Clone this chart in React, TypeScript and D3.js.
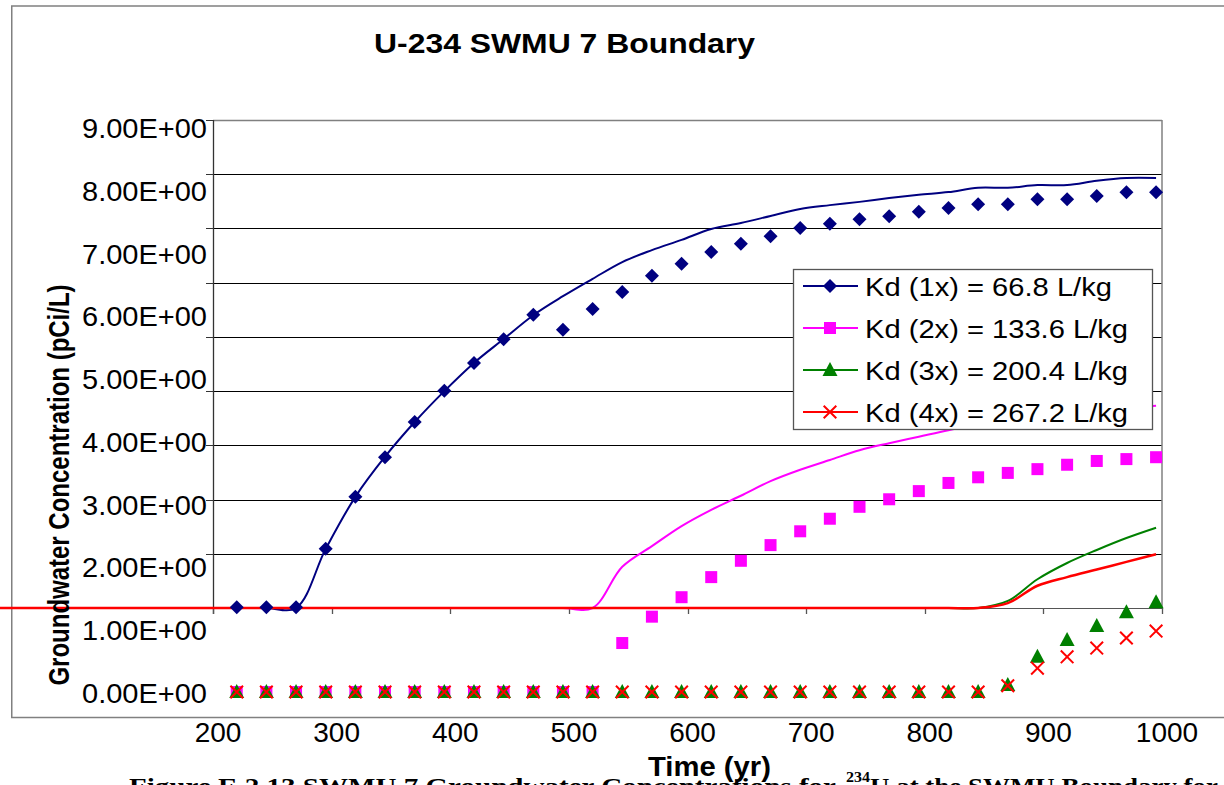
import React from "react";
import * as d3 from "d3";

const X_TICKS = [200, 300, 400, 500, 600, 700, 800, 900, 1000];
const Y_TICKS = [0, 1, 2, 3, 4, 5, 6, 7, 8, 9];
const Y_TICK_LABELS = ["0.00E+00", "1.00E+00", "2.00E+00", "3.00E+00", "4.00E+00", "5.00E+00", "6.00E+00", "7.00E+00", "8.00E+00", "9.00E+00"];

const LINE_YEARS = [20, 45, 70, 95, 120, 145, 170, 195, 220, 245, 270, 295, 320, 345, 370, 395, 420, 445, 470, 495, 520, 545, 570, 595, 620, 645, 670, 695, 720, 745, 770, 795, 820, 845, 870, 895, 920, 945, 970, 995];
const MARKER_YEARS = [220, 245, 270, 295, 320, 345, 370, 395, 420, 445, 470, 495, 520, 545, 570, 595, 620, 645, 670, 695, 720, 745, 770, 795, 820, 845, 870, 895, 920, 945, 970, 995];

// Line traces (drawn against the gridline frame)
const LINE_1X = [0, 0, 0, 0, 0, 0, 0, 0, 0, 0, 0, 1.09, 2.05, 2.79, 3.43, 4.0, 4.52, 4.96, 5.4, 5.75, 6.07, 6.38, 6.6, 6.79, 6.99, 7.1, 7.23, 7.36, 7.43, 7.49, 7.56, 7.62, 7.67, 7.75, 7.75, 7.8, 7.8, 7.88, 7.93, 7.93];
const LINE_2X = [0, 0, 0, 0, 0, 0, 0, 0, 0, 0, 0, 0, 0, 0, 0, 0, 0, 0, 0, 0, 0, 0.76, 1.14, 1.51, 1.81, 2.07, 2.34, 2.55, 2.73, 2.91, 3.04, 3.16, 3.28, 3.38, 3.47, 3.54, 3.6, 3.65, 3.69, 3.73];
const LINE_3X = [0, 0, 0, 0, 0, 0, 0, 0, 0, 0, 0, 0, 0, 0, 0, 0, 0, 0, 0, 0, 0, 0, 0, 0, 0, 0, 0, 0, 0, 0, 0, 0, 0, 0, 0.13, 0.53, 0.83, 1.07, 1.29, 1.48];
const LINE_4X = [0, 0, 0, 0, 0, 0, 0, 0, 0, 0, 0, 0, 0, 0, 0, 0, 0, 0, 0, 0, 0, 0, 0, 0, 0, 0, 0, 0, 0, 0, 0, 0, 0, 0, 0.09, 0.41, 0.57, 0.71, 0.85, 0.99];

// Marker values (read against the tick-label frame)
const MARK_1X = [1.35, 1.35, 1.35, 2.28, 3.11, 3.74, 4.3, 4.8, 5.24, 5.62, 6.01, 5.77, 6.1, 6.37, 6.63, 6.82, 7.01, 7.14, 7.26, 7.39, 7.46, 7.53, 7.58, 7.65, 7.71, 7.77, 7.77, 7.85, 7.85, 7.9, 7.96, 7.96];
const MARK_2X = [0, 0, 0, 0, 0, 0, 0, 0, 0, 0, 0, 0, 0, 0.78, 1.2, 1.51, 1.83, 2.09, 2.34, 2.56, 2.76, 2.95, 3.07, 3.2, 3.33, 3.42, 3.49, 3.55, 3.62, 3.68, 3.71, 3.74];
const MARK_3X = [0, 0, 0, 0, 0, 0, 0, 0, 0, 0, 0, 0, 0, 0, 0, 0, 0, 0, 0, 0, 0, 0, 0, 0, 0, 0, 0.11, 0.56, 0.83, 1.05, 1.27, 1.43];
const MARK_4X = [0, 0, 0, 0, 0, 0, 0, 0, 0, 0, 0, 0, 0, 0, 0, 0, 0, 0, 0, 0, 0, 0, 0, 0, 0, 0, 0.1, 0.38, 0.56, 0.7, 0.86, 0.97];

const SERIES_NAMES = ["Kd (1x) = 66.8 L/kg", "Kd (2x) = 133.6 L/kg", "Kd (3x) = 200.4 L/kg", "Kd (4x) = 267.2 L/kg"];
const SERIES_COLORS = ["#000080", "#FF00FF", "#008000", "#FF0000"];
const SERIES_SHAPES = ["diamond", "square", "triangle", "x"];

const SANS = "'Liberation Sans', Arial, Helvetica, sans-serif";
const SERIF = "'Liberation Serif', 'Times New Roman', serif";

function Marker({ shape, x, y, color }: { shape: string; x: number; y: number; color: string }) {
  if (shape === "diamond") {
    const r = 7;
    return <path d={`M${x},${y - r}L${x + r},${y}L${x},${y + r}L${x - r},${y}Z`} fill={color} />;
  }
  if (shape === "square") {
    const s = 12;
    return <rect x={x - s / 2} y={y - s / 2} width={s} height={s} fill={color} />;
  }
  if (shape === "triangle") {
    return <path d={`M${x},${y - 8}L${x + 7.5},${y + 6}L${x - 7.5},${y + 6}Z`} fill={color} />;
  }
  const h = 6.3;
  return (
    <path d={`M${x - h},${y - h}L${x + h},${y + h}M${x + h},${y - h}L${x - h},${y + h}`} stroke={color} strokeWidth={2} fill="none" />
  );
}

export default function App() {
  const x = d3.scaleLinear().domain([200, 1000]).range([213, 1162]);
  const yGrid = d3.scaleLinear().domain([0, 9]).range([608, 120]);
  const yLabel = d3.scaleLinear().domain([0, 9]).range([692, 127]);

  const lines = [LINE_1X, LINE_2X, LINE_3X, LINE_4X];
  const marks = [MARK_1X, MARK_2X, MARK_3X, MARK_4X];

  const lineGen = d3
    .line<number>()
    .x((_, i) => x(LINE_YEARS[i]))
    .y((d) => yGrid(d))
    .curve(d3.curveCatmullRom);

  const legendX = 793;
  const legendY = 269;
  const legendW = 359;
  const legendH = 160;
  const legendRows = [286, 328, 370, 412];
  const legendLens = [247, 263, 263, 263];

  return (
    <svg
      width={1224}
      height={785}
      style={{ position: "absolute", left: 0, top: 0, background: "#fff" }}
      xmlns="http://www.w3.org/2000/svg"
    >
      <rect x={0} y={0} width={1224} height={785} fill="#fff" />
      {/* outer chart frame */}
      <rect x={11.75} y={6} width={1300} height={711.5} fill="none" stroke="#808080" strokeWidth={1.5} />

      {/* title */}
      <text x={374} y={52.5} fontFamily={SANS} fontWeight="bold" fontSize={28} textLength={381} lengthAdjust="spacingAndGlyphs">
        U-234 SWMU 7 Boundary
      </text>

      {/* gridlines */}
      {Y_TICKS.filter((v) => v > 0 && v < 9).map((v) => (
        <line key={"g" + v} x1={213} x2={1162} y1={Math.round(yGrid(v)) + 0.5} y2={Math.round(yGrid(v)) + 0.5} stroke="#000" strokeWidth={1} />
      ))}
      {/* plot border top/right */}
      <line x1={213} x2={1162} y1={120.5} y2={120.5} stroke="#808080" strokeWidth={1.5} />
      <line x1={1162} x2={1162} y1={120} y2={608} stroke="#808080" strokeWidth={1.5} />
      {/* y axis */}
      <line x1={213.5} x2={213.5} y1={120} y2={614} stroke="#333" strokeWidth={1.3} />
      {Y_TICKS.map((v) => (
        <line key={"yt" + v} x1={206} x2={213} y1={Math.round(yGrid(v)) + 0.5} y2={Math.round(yGrid(v)) + 0.5} stroke="#333" strokeWidth={1} />
      ))}
      {/* x axis ticks */}
      <line x1={213} x2={1162} y1={608.5} y2={608.5} stroke="#555" strokeWidth={1} />
      {X_TICKS.map((t) => (
        <line key={"xt" + t} x1={Math.round(x(t)) + 0.5} x2={Math.round(x(t)) + 0.5} y1={608} y2={614} stroke="#555" strokeWidth={1.3} />
      ))}

      {/* y tick labels */}
      {Y_TICKS.map((v, i) => (
        <text key={"yl" + v} x={82} y={yLabel(v) + 11} fontFamily={SANS} fontSize={28} textLength={125} lengthAdjust="spacingAndGlyphs" fill="#000">
          {Y_TICK_LABELS[i]}
        </text>
      ))}
      {/* x tick labels */}
      {X_TICKS.map((t) => (
        <text key={"xl" + t} x={x(t) + 5} y={742} fontFamily={SANS} fontSize={28} textAnchor="middle" fill="#000">
          {t}
        </text>
      ))}

      {/* series lines */}
      {lines.map((vals, si) => (
        <path key={"ln" + si} d={lineGen(vals) || ""} fill="none" stroke={SERIES_COLORS[si]} strokeWidth={si === 3 ? 2.5 : 2} strokeLinejoin="round" />
      ))}

      {/* markers */}
      {marks.map((vals, si) => (
        <g key={"mk" + si}>
          {vals.map((v, i) => (
            <Marker key={i} shape={SERIES_SHAPES[si]} x={x(MARKER_YEARS[i])} y={yLabel(v)} color={SERIES_COLORS[si]} />
          ))}
        </g>
      ))}

      {/* legend */}
      <rect x={legendX + 0.5} y={legendY + 0.5} width={legendW} height={legendH} fill="#fff" stroke="#555" strokeWidth={1.3} />
      {SERIES_NAMES.map((name, i) => (
        <g key={"lg" + i}>
          <line x1={803} x2={858} y1={legendRows[i]} y2={legendRows[i]} stroke={SERIES_COLORS[i]} strokeWidth={2} />
          <Marker shape={SERIES_SHAPES[i]} x={830} y={legendRows[i]} color={SERIES_COLORS[i]} />
          <text x={865} y={legendRows[i] + 9.5} fontFamily={SANS} fontSize={26.5} textLength={legendLens[i]} lengthAdjust="spacingAndGlyphs" fill="#000">
            {name}
          </text>
        </g>
      ))}

      {/* axis titles */}
      <text
        transform="translate(69,485) scale(1.25,1) rotate(-90)"
        textAnchor="middle"
        fontFamily={SANS}
        fontWeight="bold"
        fontSize={24}
        fill="#000"
      >
        Groundwater Concentration (pCi/L)
      </text>

      {/* caption (partially cut off at the bottom) */}
      <text x={129} y={794} fontFamily={SERIF} fontWeight="bold" fontSize={24} textLength={707} lengthAdjust="spacingAndGlyphs" fill="#000">
        Figure E.2.13 SWMU 7 Groundwater Concentrations for
      </text>
      <text x={846} y={782} fontFamily={SERIF} fontWeight="bold" fontSize={15} textLength={24} lengthAdjust="spacingAndGlyphs" fill="#000">
        234
      </text>
      <text x={870} y={794} fontFamily={SERIF} fontWeight="bold" fontSize={24} textLength={348} lengthAdjust="spacingAndGlyphs" fill="#000">
        U at the SWMU Boundary for
      </text>

      <text x={648} y={776} fontFamily={SANS} fontWeight="bold" fontSize={27} textLength={123} lengthAdjust="spacingAndGlyphs" fill="#000">
        Time (yr)
      </text>
    </svg>
  );
}
